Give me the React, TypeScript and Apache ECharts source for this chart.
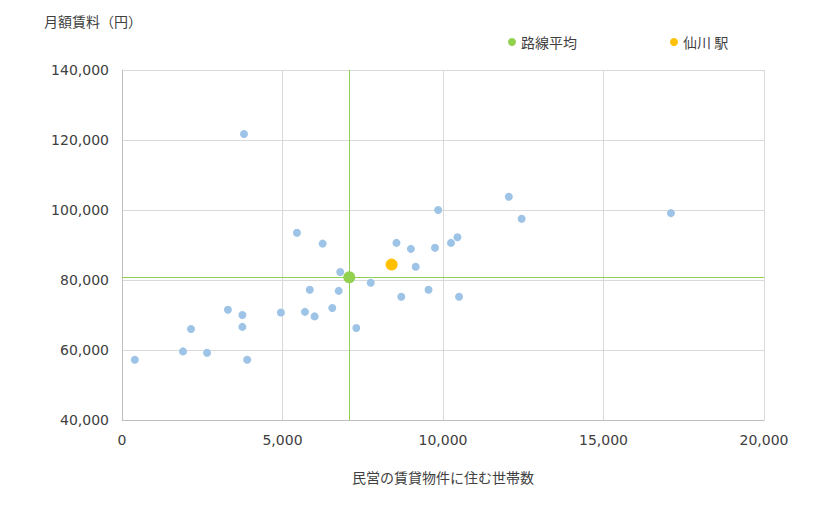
import React, { useEffect, useRef } from 'react'
import * as echarts from 'echarts'

// 各駅: [民営の賃貸物件に住む世帯数, 月額賃料]
const stations: [number, number][] = [
  [400, 57200], [1900, 59600], [2150, 66000], [2650, 59200], [3300, 71500],
  [3750, 70000], [3750, 66600], [3800, 121700], [3900, 57200], [4950, 70700],
  [5450, 93500], [5700, 70900], [5850, 77200], [6000, 69600], [6250, 90400],
  [6550, 72000], [6750, 76900], [6800, 82300], [7300, 66300], [7750, 79200],
  [8550, 90600], [8700, 75200], [9000, 88900], [9150, 83800], [9550, 77200],
  [9750, 89200], [9850, 100000], [10250, 90600], [10450, 92200], [10500, 75200],
  [12050, 103800], [12450, 97500], [17100, 99100],
]
const lineAverage: [number, number] = [7080, 80800]
const sengawa: [number, number] = [8400, 84400]

const font = '"Noto Sans CJK JP", sans-serif'
const numFont = '"DejaVu Sans", "Noto Sans CJK JP", sans-serif'
const textColor = '#404040'

const App: React.FC = () => {
  const ref = useRef<HTMLDivElement>(null)

  useEffect(() => {
    if (!ref.current) return
    const chart = echarts.init(ref.current, undefined, { renderer: 'svg' })

    const option: echarts.EChartsOption = {
      animation: false,
      backgroundColor: '#ffffff',
      textStyle: { fontFamily: font, color: textColor },
      grid: { left: 122, right: 56, top: 70, bottom: 90 },
      legend: {
        data: ['路線平均', '仙川 駅'],
        top: 30,
        left: 503,
        icon: 'circle',
        itemWidth: 8,
        itemHeight: 8,
        itemGap: 93,
        textStyle: { fontFamily: font, fontSize: 14, color: textColor },
      },
      xAxis: {
        type: 'value',
        min: 0,
        max: 20000,
        interval: 5000,
        name: '民営の賃貸物件に住む世帯数',
        nameLocation: 'middle',
        nameGap: 50,
        nameTextStyle: { fontFamily: font, fontSize: 14, color: textColor },
        axisLine: { show: true, lineStyle: { color: '#bfbfbf' } },
        axisTick: { show: false },
        axisLabel: {
          fontFamily: numFont,
          fontSize: 14,
          color: textColor,
          margin: 13,
          formatter: (v: number) => v.toLocaleString('en-US'),
        },
        splitLine: { show: true, lineStyle: { color: '#d9d9d9' } },
      },
      yAxis: {
        type: 'value',
        min: 40000,
        max: 140000,
        interval: 20000,
        name: '月額賃料（円）',
        nameLocation: 'end',
        nameGap: 42,
        nameTextStyle: { fontFamily: font, fontSize: 14, color: textColor, align: 'left', padding: [0, 0, 0, -78] },
        axisLine: { show: true, lineStyle: { color: '#bfbfbf' } },
        axisTick: { show: false },
        axisLabel: {
          fontFamily: numFont,
          fontSize: 14,
          color: textColor,
          margin: 13,
          formatter: (v: number) => v.toLocaleString('en-US'),
        },
        splitLine: { show: true, lineStyle: { color: '#d9d9d9' } },
      },
      series: [
        {
          name: '駅',
          type: 'scatter',
          symbolSize: 8,
          itemStyle: { color: '#9dc3e6', opacity: 1 },
          data: stations,
          z: 3,
        },
        {
          name: '路線平均',
          type: 'scatter',
          symbolSize: 12,
          itemStyle: { color: '#92d050', opacity: 1 },
          data: [lineAverage],
          z: 5,
          markLine: {
            silent: true,
            symbol: 'none',
            label: { show: false },
            lineStyle: { color: '#92d050', width: 1, type: 'solid', opacity: 1 },
            data: [{ xAxis: lineAverage[0] }, { yAxis: lineAverage[1] }],
          },
        },
        {
          name: '仙川 駅',
          type: 'scatter',
          symbolSize: 12,
          itemStyle: { color: '#ffc000', opacity: 1 },
          data: [sengawa],
          z: 5,
        },
      ],
    }

    chart.setOption(option)
    return () => {
      chart.dispose()
    }
  }, [])

  return <div ref={ref} style={{ width: 820, height: 510, margin: -8 }} />
}

export default App
